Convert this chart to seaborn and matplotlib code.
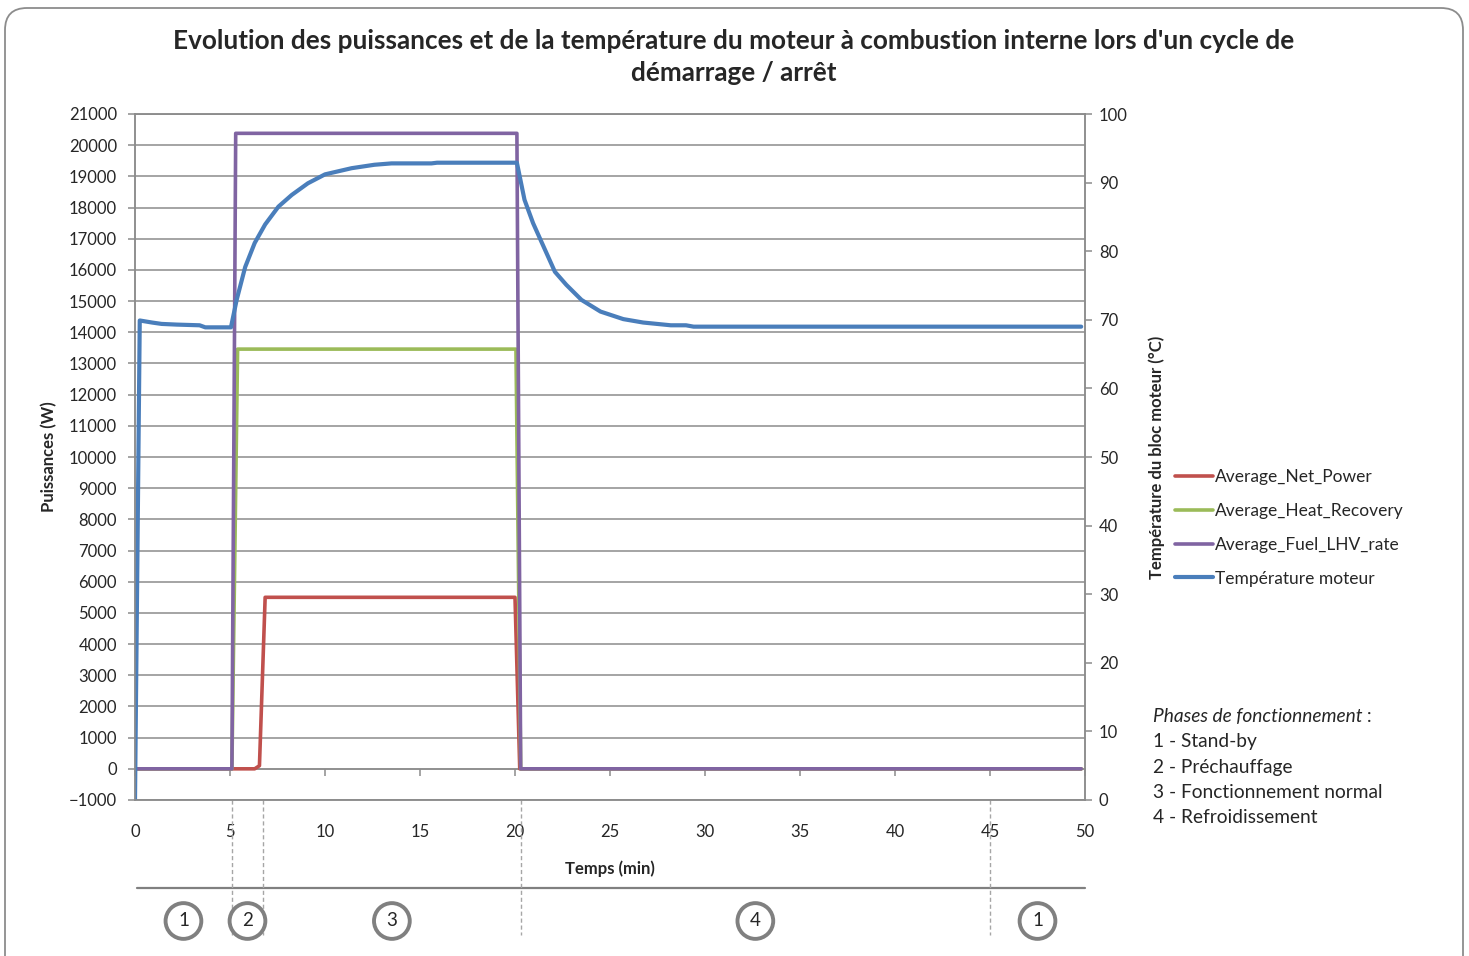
import numpy as np
import pandas as pd
import seaborn as sns
import matplotlib
matplotlib.use("Agg")
import matplotlib.pyplot as plt
from matplotlib.patches import FancyBboxPatch
from matplotlib.transforms import IdentityTransform, blended_transform_factory

# --- data -------------------------------------------------------------
t_net = [0, 6.3, 6.55, 6.85, 20.0, 20.25, 49.8]
p_net = [0, 0, 100, 5500, 5500, 0, 0]

t_heat = [0, 5.1, 5.4, 20.05, 20.3, 49.8]
p_heat = [0, 0, 13460, 13460, 0, 0]

t_fuel = [0, 5.1, 5.3, 20.1, 20.3, 49.8]
p_fuel = [0, 0, 20380, 20380, 0, 0]

t_temp = [0, 0.25, 0.9, 1.4, 2.2, 3.4, 3.7, 5.05, 5.35, 5.8, 6.3, 6.85, 7.55,
          8.25, 9.1, 10.0, 11.4, 12.6, 13.5, 15.6, 15.9, 20.1, 20.5, 20.95,
          21.5, 22.1, 22.7, 23.5, 24.5, 25.7, 26.75, 28.2, 29.0, 29.4, 49.8]
temp = [0, 69.9, 69.6, 69.4, 69.3, 69.2, 68.9, 68.9, 72.9, 77.7, 81.2, 83.9,
        86.5, 88.2, 89.9, 91.2, 92.1, 92.6, 92.8, 92.8, 92.9, 92.9, 87.5, 84.1,
        80.7, 77.0, 75.1, 72.9, 71.2, 70.1, 69.6, 69.2, 69.2, 69.0, 69.0]

series_labels = ["Average_Net_Power", "Average_Heat_Recovery",
                 "Average_Fuel_LHV_rate", "Température moteur"]

phase_bounds = [0, 5.1, 6.74, 20.3, 45, 50]
phase_ids = ["1", "2", "3", "4", "1"]
phase_legend = ["1 - Stand-by", "2 - Préchauffage",
                "3 - Fonctionnement normal", "4 - Refroidissement"]

title = ("Evolution des puissances et de la température du moteur à combustion "
         "interne lors d'un cycle de\ndémarrage / arrêt")

# --- style ------------------------------------------------------------
sns.set_style("white")
plt.rcParams["font.family"] = ["Lato", "DejaVu Sans"]

RED, GREEN, PURPLE, BLUE = "#C0504D", "#9BBB59", "#8064A2", "#4A7EBB"
GRID = "#8C8C8C"
LW = 2.6
TICK_FS = 12

fig = plt.figure(figsize=(14.69, 9.56), dpi=100)
ax = fig.add_axes([135 / 1469, 1 - 800 / 956, 950 / 1469, 686 / 956])
ax2 = ax.twinx()

# --- series -----------------------------------------------------------
sns.lineplot(x=t_net, y=p_net, ax=ax, color=RED, lw=LW, estimator=None,
             sort=False, label=series_labels[0])
sns.lineplot(x=t_heat, y=p_heat, ax=ax, color=GREEN, lw=LW, estimator=None,
             sort=False, label=series_labels[1])
sns.lineplot(x=t_fuel, y=p_fuel, ax=ax, color=PURPLE, lw=LW, estimator=None,
             sort=False, label=series_labels[2])
sns.lineplot(x=t_temp, y=temp, ax=ax2, color=BLUE, lw=3.0, estimator=None,
             sort=False, label=series_labels[3])

h1, l1 = ax.get_legend_handles_labels()
h2, l2 = ax2.get_legend_handles_labels()
ax.get_legend().remove()
ax2.get_legend().remove()

# --- axes -------------------------------------------------------------
ax.set_xlim(0, 50)
ax.set_ylim(-1000, 21000)
ax.set_yticks(np.arange(-1000, 21001, 1000))
ax.set_xticks(np.arange(0, 51, 5))
ax2.set_ylim(0, 100)
ax2.set_yticks(np.arange(0, 101, 10))

ax.grid(axis="y", color=GRID, lw=1.1)
ax.grid(axis="x", visible=False)
ax2.grid(False)

for a in (ax, ax2):
    for s in a.spines.values():
        s.set_color(GRID)
        s.set_linewidth(1.1)
    a.spines["top"].set_visible(True)

ax.tick_params(axis="y", direction="out", length=5, width=1.1, color=GRID,
               labelsize=TICK_FS, pad=8, left=True)
ax2.tick_params(axis="y", direction="out", length=5, width=1.1, color=GRID,
                labelsize=TICK_FS, pad=5, right=True)
ax.tick_params(axis="x", length=0, labelsize=TICK_FS, pad=17)

# horizontal axis crossing at zero power
sec = ax.secondary_xaxis(1000 / 22000)
sec.set_xticks(np.arange(0, 51, 5))
sec.tick_params(axis="x", direction="out", length=5, width=1.1, color=GRID,
                labelbottom=False, bottom=True)
sec.spines["bottom"].set_color(GRID)
sec.spines["bottom"].set_linewidth(1.1)

ax.set_xlabel("Temps (min)", fontsize=12, fontweight="bold", labelpad=15)
ax.set_ylabel("Puissances (W)", fontsize=12, fontweight="bold", labelpad=8)
ax2.set_ylabel("Température du bloc moteur (°C)", fontsize=12,
               fontweight="bold", labelpad=15)

fig.text(734 / 1469, 1 - 57 / 956, title, ha="center", va="center",
         fontsize=18.8, fontweight="bold", linespacing=1.42)

# --- legend -----------------------------------------------------------
fig.legend(h1 + h2, l1 + l2, loc="center left",
           bbox_to_anchor=(1159 / 1469, 1 - 528 / 956), frameon=False,
           fontsize=12.5, handlelength=2.2, handletextpad=0.15,
           labelspacing=1.02)

# --- phase annotations ------------------------------------------------
tr = blended_transform_factory(ax.transData, fig.transFigure)
y_sep = 1 - 888 / 956
ax.plot([0.1, 50], [y_sep, y_sep], transform=tr, color="#808080", lw=1.6,
        clip_on=False)
for xb in phase_bounds[1:-1]:
    ax.plot([xb, xb], [1 - 800 / 956, 1 - 935 / 956], transform=tr,
            color="#A6A6A6", lw=1.0, ls=(0, (3, 2)), clip_on=False)
for lo, hi, pid in zip(phase_bounds[:-1], phase_bounds[1:], phase_ids):
    ax.text((lo + hi) / 2, 1 - 921 / 956, pid, transform=tr, ha="center",
            va="center", fontsize=13.5, clip_on=False,
            bbox=dict(boxstyle="circle,pad=0.5", fc="white", ec="#808080",
                      lw=2.8))

PH_FS = 13.8
t0 = fig.text(1153 / 1469, 1 - 717 / 956, "Phases de fonctionnement",
              fontsize=PH_FS, style="italic", ha="left", va="center")
ax.annotate(" :", xy=(1, 0.5), xycoords=t0, va="center", ha="left",
            fontsize=PH_FS)
for i, line in enumerate(phase_legend):
    fig.text(1153 / 1469, 1 - (742 + 25.3 * i) / 956, line, fontsize=PH_FS,
             ha="left", va="center")

# --- rounded chart border ----------------------------------------------
fig.patches.append(FancyBboxPatch((5, -30), 1458, 948 + 30,
                                  boxstyle="round,pad=0,rounding_size=22",
                                  transform=IdentityTransform(), fc="none",
                                  ec="#8C8C8C", lw=1.3))

fig.savefig("out.png", dpi=100, facecolor="white")
